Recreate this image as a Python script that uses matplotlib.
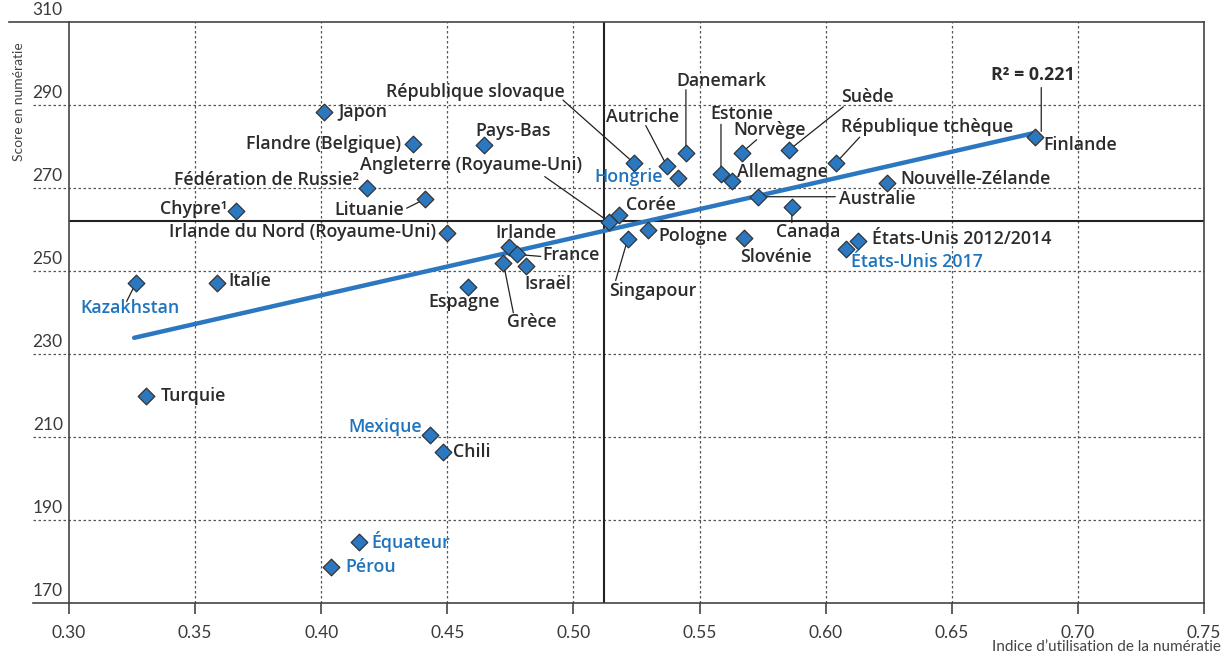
import matplotlib
matplotlib.use("Agg")
import matplotlib.pyplot as plt
from matplotlib.lines import Line2D

plt.rcParams['font.family'] = ['Open Sans', 'DejaVu Sans']

# ---- data -------------------------------------------------------------
countries = [
    "Japon", "Flandre (Belgique)", "Fédération de Russie²", "Chypre¹", "Lituanie",
    "Angleterre (Royaume-Uni)", "Irlande du Nord (Royaume-Uni)", "Kazakhstan", "Italie",
    "Pays-Bas", "République slovaque", "Autriche", "Danemark", "Hongrie", "Estonie",
    "Norvège", "Allemagne", "Suède", "République tchèque", "Finlande",
    "Nouvelle-Zélande", "Australie", "Canada", "Slovénie", "États-Unis 2012/2014",
    "États-Unis 2017", "Corée", "Pologne", "Singapour", "Irlande", "France",
    "Israël", "Espagne", "Grèce", "Turquie", "Mexique", "Chili", "Équateur", "Pérou",
]
use_index = [
    0.401, 0.4365, 0.418, 0.366, 0.441,
    0.514, 0.450, 0.3264, 0.3586,
    0.4647, 0.524, 0.537, 0.5446, 0.5415, 0.5585,
    0.5667, 0.5627, 0.5856, 0.604, 0.683,
    0.6245, 0.5733, 0.5866, 0.5676, 0.6127,
    0.6081, 0.5182, 0.5297, 0.5215, 0.4745, 0.4775,
    0.4812, 0.4582, 0.4722, 0.3305, 0.4431, 0.4483, 0.415, 0.4039,
]
numeracy = [
    288.2, 280.5, 269.9, 264.5, 267.3,
    261.9, 259.2, 247.0, 247.0,
    280.3, 276.0, 275.4, 278.5, 272.3, 273.3,
    278.5, 271.7, 279.2, 276.0, 282.4,
    271.1, 267.9, 265.5, 257.9, 257.3,
    255.2, 263.5, 259.9, 257.6, 255.7, 254.0,
    251.3, 246.1, 252.0, 219.9, 210.5, 206.4, 184.7, 178.7,
]
new_round = {"Kazakhstan", "Hongrie", "États-Unis 2017", "Mexique", "Équateur", "Pérou"}

mean_index = 0.512
mean_score = 262.0
trend_x = [0.3258, 0.683]
trend_y = [233.9, 283.3]
r_squared = 0.221

x_ticks = [0.30, 0.35, 0.40, 0.45, 0.50, 0.55, 0.60, 0.65, 0.70, 0.75]
y_ticks = [170, 190, 210, 230, 250, 270, 290, 310]

# label placement: offset in pixels (dx, dy), alignment, optional leader start
labels = {
    "Japon": (15, 0, "left", None),
    "Flandre (Belgique)": (-12, 0, "right", None),
    "Fédération de Russie²": (-8, 8, "right", None),
    "Chypre¹": (-8, 2, "right", None),
    "Lituanie": (-21, -11, "right", (-18, -9)),
    "Angleterre (Royaume-Uni)": (-138, 57, "center", (-64, 45)),
    "Irlande du Nord (Royaume-Uni)": (-11, 1, "right", None),
    "Kazakhstan": (-6, -25, "center", (-9, -18)),
    "Italie": (12, 2, "left", None),
    "Pays-Bas": (-9, 14, "left", None),
    "République slovaque": (-69, 71, "right", (-71, 63)),
    "Autriche": (-24, 49, "center", (-21, 40)),
    "Danemark": (35, 72, "center", (0, 63)),
    "Hongrie": (-15, 1, "right", None),
    "Estonie": (21, 60, "center", (0, 50)),
    "Norvège": (28, 23, "center", (15, 13)),
    "Allemagne": (5, 9, "left", None),
    "Suède": (78, 53, "center", (54, 43)),
    "République tchèque": (5, 36, "left", (24, 26)),
    "Finlande": (8, -8, "left", None),
    "Nouvelle-Zélande": (13, 4, "left", None),
    "Australie": (81, -2, "left", (77, 0)),
    "Canada": (16, -25, "center", (0, -16)),
    "Slovénie": (32, -19, "center", None),
    "États-Unis 2012/2014": (14, 2, "left", None),
    "États-Unis 2017": (5, -13, "left", None),
    "Corée": (7, 10, "left", None),
    "Pologne": (10, -6, "left", None),
    "Singapour": (25, -52, "center", (-12, -41)),
    "Irlande": (17, 14, "center", None),
    "France": (26, -1, "left", (24, -2)),
    "Israël": (22, -18, "center", None),
    "Espagne": (-4, -15, "center", None),
    "Grèce": (28, -59, "center", (10, -50)),
    "Turquie": (15, 0, "left", None),
    "Mexique": (-8, 8, "right", None),
    "Chili": (10, 0, "left", None),
    "Équateur": (12, 0, "left", None),
    "Pérou": (14, 0, "left", None),
}

# ---- styling ------------------------------------------------------------
BLUE = "#2c78c0"
TEXT_BLUE = "#1f74bd"
DARK = "#2b2b2b"
GRID = "#555555"
LABEL_SIZE = 12.8

fig = plt.figure(figsize=(12.31, 6.57), dpi=100)
ax = fig.add_axes([0.0561, 0.0822, 0.9219, 0.8843])
ax.set_xlim(0.30, 0.75)
ax.set_ylim(170, 310)

for s in ax.spines.values():
    s.set_color("#444444")
    s.set_linewidth(1.2)

# dotted grid, horizontal lines run into the left margin
for v in x_ticks[1:-1]:
    ax.axvline(v, color=GRID, lw=0.9, ls=(0, (2, 2)), zorder=1)
for v in y_ticks[1:-1]:
    ax.add_line(Line2D([-0.032, 1], [v, v], transform=ax.get_yaxis_transform(),
                       color=GRID, lw=0.9, ls=(0, (2, 2)), clip_on=False, zorder=1))
# extended frame lines at top and bottom
ax.add_line(Line2D([-0.053, 0], [1, 1], transform=ax.transAxes, color="#444444",
                   lw=1.2, clip_on=False))
ax.add_line(Line2D([-0.032, 0], [0, 0], transform=ax.transAxes, color="#444444",
                   lw=1.2, clip_on=False))

# mean lines
ax.axvline(mean_index, color="#222222", lw=1.5, zorder=2)
ax.axhline(mean_score, color="#222222", lw=1.5, zorder=2)

# trend line
ax.plot(trend_x, trend_y, color=BLUE, lw=3.2, solid_capstyle="round", zorder=3)

# leader lines
for name, x, y in zip(countries, use_index, numeracy):
    dx, dy, ha, lead = labels[name]
    if lead is not None:
        ax.annotate("", xy=(x, y), xytext=lead, textcoords="offset pixels",
                    arrowprops=dict(arrowstyle="-", color="#222222", lw=0.9,
                                    shrinkA=0, shrinkB=0), zorder=4)

# points
ax.scatter(use_index, numeracy, marker="D", s=72, color=BLUE,
           edgecolor="#333333", linewidth=0.9, zorder=5)

# labels
for name, x, y in zip(countries, use_index, numeracy):
    dx, dy, ha, lead = labels[name]
    col = TEXT_BLUE if name in new_round else DARK
    ax.annotate(name, xy=(x, y), xytext=(dx, dy), textcoords="offset pixels",
                ha=ha, va="center", fontsize=LABEL_SIZE, fontweight="semibold",
                color=col, zorder=6)

# R² annotation
r2_x = 0.6855
r2_y = trend_y[0] + (trend_y[1] - trend_y[0]) / (trend_x[1] - trend_x[0]) * (r2_x - trend_x[0])
ax.annotate("", xy=(r2_x, r2_y), xytext=(r2_x, 294.2),
            arrowprops=dict(arrowstyle="-", color="#222222", lw=0.9,
                            shrinkA=0, shrinkB=0), zorder=4)
ax.text(0.6821, 297.2, f"R² = {r_squared:.3f}", ha="center", va="center",
        fontsize=LABEL_SIZE, fontweight="bold", color=DARK, zorder=6)

# ticks
ax.set_xticks(x_ticks)
ax.set_xticklabels([f"{v:.2f}" for v in x_ticks], family=["Lato", "DejaVu Sans"])
ax.tick_params(axis="x", direction="out", length=8, width=1.2, color="#444444",
               pad=8, labelsize=12.5, labelcolor="#3a3a3a")
ax.set_yticks(y_ticks)
ax.set_yticklabels([])
ax.tick_params(axis="y", length=0)
for v in y_ticks:
    ax.text(-0.0055, v + 0.9, str(v), transform=ax.get_yaxis_transform(),
            ha="right", va="bottom", fontsize=12.5, color="#3a3a3a",
            family=["Lato", "DejaVu Sans"], clip_on=False)

fig.text(0.0155, 0.845, "Score en numératie", rotation=90, ha="center", va="center",
         fontsize=10, color="#444444", family=["Lato", "DejaVu Sans"])
fig.text(0.992, 0.0155, "Indice d\u2019utilisation de la numératie", ha="right",
         va="center", fontsize=11, color="#444444", family=["Lato", "DejaVu Sans"])

fig.savefig("out.png", dpi=100)
